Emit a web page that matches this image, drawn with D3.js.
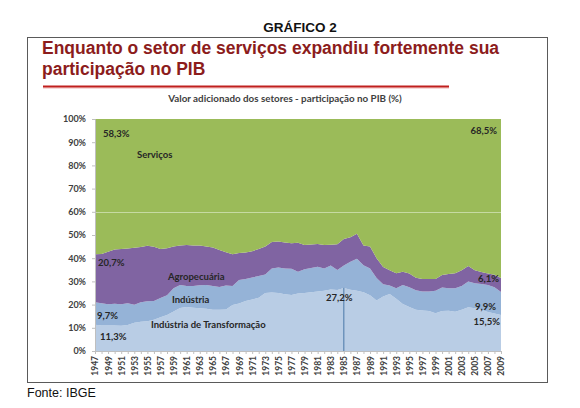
<!DOCTYPE html>
<html>
<head>
<meta charset="utf-8">
<script src="https://cdn.jsdelivr.net/npm/d3@7"></script>
<style>
  body { margin: 0; background: #fff; }
  svg { display: block; }
</style>
</head>
<body>
<svg id="chart"></svg>
<script>
// anos 1947..2009
const years = d3.range(1947, 2010);

// participacao no PIB (%) por setor
const transformacao = [
  11.3, 11.0, 11.0, 11.0, 10.9, 11.2, 12.2, 12.6, 12.8, 13.5,
  14.5, 15.5, 17.0, 18.5, 19.0, 18.6, 18.4, 18.2, 17.8, 17.8,
  17.9, 19.8, 20.5, 21.5, 22.2, 23.0, 25.0, 25.2, 25.0, 24.5,
  24.1, 24.8, 25.0, 25.3, 25.6, 26.0, 26.5, 26.3, 27.2, 26.4,
  26.0, 25.3, 24.0, 21.8, 23.5, 24.6, 22.5, 20.3, 19.0, 17.8,
  17.5, 17.2, 16.3, 17.2, 17.4, 16.9, 17.8, 18.9, 18.4, 17.8,
  16.8, 16.2, 15.5
];
const industria = [
  9.7, 9.6, 9.2, 9.4, 9.3, 9.4, 7.7, 8.4, 8.6, 8.0,
  8.3, 8.5, 10.0, 10.0, 9.0, 9.4, 9.9, 10.3, 10.2, 9.8,
  10.3, 8.2, 10.1, 9.5, 9.5, 9.3, 8.0, 10.4, 11.0, 11.1,
  11.3, 9.4, 10.2, 10.5, 10.7, 9.6, 10.3, 8.6, 9.6, 12.1,
  13.8, 11.7, 11.6, 9.7, 5.3, 3.6, 4.5, 8.1, 8.5, 8.4,
  8.1, 8.4, 9.7, 10.2, 9.6, 10.1, 10.2, 11.1, 10.8, 11.1,
  11.6, 11.3, 9.9
];
const agropecuaria = [
  20.7, 21.2, 22.6, 23.4, 23.8, 23.6, 24.6, 23.8, 24.0, 23.4,
  21.2, 20.3, 18.0, 17.0, 17.7, 17.5, 17.2, 16.5, 16.6, 15.9,
  14.4, 13.7, 11.6, 11.5, 11.3, 11.7, 12.0, 11.4, 11.2, 11.2,
  11.0, 12.5, 10.5, 10.1, 9.8, 10.1, 9.0, 11.1, 11.5, 10.5,
  10.7, 8.5, 9.4, 8.5, 7.4, 6.6, 6.5, 5.8, 5.9, 5.4,
  5.4, 5.4, 5.0, 5.4, 6.2, 6.5, 6.8, 6.6, 5.6, 5.2,
  5.0, 5.4, 6.1
];
const servicos = [
  58.3, 58.2, 57.2, 56.2, 56.0, 55.8, 55.5, 55.2, 54.6, 55.1,
  56.0, 55.7, 55.0, 54.5, 54.3, 54.5, 54.5, 55.0, 55.4, 56.5,
  57.4, 58.3, 57.8, 57.5, 57.0, 56.0, 55.0, 53.0, 52.8, 53.2,
  53.6, 53.3, 54.3, 54.1, 53.9, 54.3, 54.2, 54.0, 51.7, 51.0,
  49.5, 54.5, 55.0, 60.0, 63.8, 65.2, 66.5, 65.8, 66.6, 68.4,
  69.0, 69.0, 69.0, 67.2, 66.8, 66.5, 65.2, 63.4, 65.2, 65.9,
  66.6, 67.1, 68.5
];

const keys = ['transformacao', 'industria', 'agropecuaria', 'servicos'];
const colors = {
  transformacao: '#b9cde5',
  industria: '#95b3d7',
  agropecuaria: '#8064a2',
  servicos: '#9bbb59'
};
const yTicks = [0, 10, 20, 30, 40, 50, 60, 70, 80, 90, 100];

const table = years.map((y, i) => ({
  year: y,
  transformacao: transformacao[i],
  industria: industria[i],
  agropecuaria: agropecuaria[i],
  servicos: servicos[i]
}));

const W = 580, H = 408;
const svg = d3.select('#chart').attr('width', W).attr('height', H);

const plot = {left: 95, right: 501, top: 119, bottom: 351};

const x = d3.scaleLinear().domain([1947, 2009]).range([plot.left, plot.right]);
const y = d3.scaleLinear().domain([0, 100]).range([plot.bottom, plot.top]);

// cabecalho
svg.append('text')
  .attr('x', 300).attr('y', 32)
  .attr('text-anchor', 'middle')
  .style('font-family', '"Liberation Sans", Arial, sans-serif')
  .style('font-weight', 'bold')
  .style('font-size', '13.5px')
  .attr('fill', '#111')
  .text('GRÁFICO 2');

svg.append('rect')
  .attr('x', 27.5).attr('y', 37.5)
  .attr('width', 520).attr('height', 345)
  .attr('fill', 'none')
  .attr('stroke', '#5a5a5a');

const title = svg.append('g')
  .style('font-family', '"Liberation Sans", Arial, sans-serif')
  .style('font-weight', 'bold')
  .style('font-size', '17.5px')
  .attr('fill', '#8c1c1c');
title.append('text').attr('x', 42).attr('y', 54)
  .text('Enquanto o setor de serviços expandiu fortemente sua');
title.append('text').attr('x', 42).attr('y', 75)
  .text('participação no PIB');

svg.append('line')
  .attr('x1', 43).attr('x2', 449).attr('y1', 88).attr('y2', 88)
  .attr('stroke', '#f0b4b4').attr('stroke-width', 1);
svg.append('line')
  .attr('x1', 43).attr('x2', 449).attr('y1', 86.5).attr('y2', 86.5)
  .attr('stroke', '#c0201e').attr('stroke-width', 2);

svg.append('text')
  .attr('x', 285).attr('y', 102)
  .attr('text-anchor', 'middle')
  .style('font-family', 'Lato, sans-serif')
  .style('font-weight', 'bold')
  .style('font-size', '9.8px')
  .attr('fill', '#404040')
  .text('Valor adicionado dos setores - participação no PIB (%)');

// areas empilhadas
const series = d3.stack().keys(keys)(table);

const area = d3.area()
  .x(d => x(d.data.year))
  .y0(d => y(d[0]))
  .y1(d => y(d[1]));

svg.append('g')
  .selectAll('path')
  .data(series)
  .join('path')
  .attr('fill', d => colors[d.key])
  .attr('d', area);

// linha de grade visivel em 60%
svg.append('line')
  .attr('x1', plot.left).attr('x2', plot.right)
  .attr('y1', Math.round(y(60)) + 0.5).attr('y2', Math.round(y(60)) + 0.5)
  .attr('stroke', '#c6daa2').attr('stroke-width', 1);

// marcador 1985
const i85 = years.indexOf(1985);
svg.append('line')
  .attr('x1', x(1985)).attr('x2', x(1985))
  .attr('y1', y(transformacao[i85])).attr('y2', y(0))
  .attr('stroke', '#4a78a8').attr('stroke-width', 1);

// eixos
const yAxis = d3.axisLeft(y)
  .tickValues(yTicks)
  .tickSize(3)
  .tickPadding(6)
  .tickFormat(d => d + '%');

svg.append('g')
  .attr('transform', `translate(${plot.left},0)`)
  .call(yAxis)
  .call(g => g.select('.domain').attr('stroke', '#bfbfbf'))
  .call(g => g.selectAll('.tick line').attr('stroke', '#bfbfbf'))
  .call(g => g.selectAll('text')
    .style('font-family', 'Lato, sans-serif')
    .style('font-weight', 'bold')
    .style('font-size', '9px')
    .attr('fill', '#404040'));

const xAxis = d3.axisBottom(x)
  .tickValues(years)
  .tickSize(3)
  .tickFormat(d => (d % 2 === 1 ? d : ''));

svg.append('g')
  .attr('transform', `translate(0,${plot.bottom})`)
  .call(xAxis)
  .call(g => g.select('.domain').attr('stroke', '#bfbfbf'))
  .call(g => g.selectAll('.tick line').attr('stroke', '#bfbfbf'))
  .call(g => g.selectAll('text')
    .attr('transform', 'rotate(-90)')
    .attr('text-anchor', 'end')
    .attr('x', -5).attr('y', 0).attr('dy', '0.35em')
    .style('font-family', 'Lato, sans-serif')
    .style('font-weight', 'bold')
    .style('font-size', '8.5px')
    .attr('fill', '#404040'));

// rotulos
const labels = [
  {t: '58,3%', x: 103, y: 137, a: 'start'},
  {t: 'Serviços', x: 137, y: 158, a: 'start'},
  {t: '68,5%', x: 497, y: 134, a: 'end'},
  {t: '20,7%', x: 98, y: 266, a: 'start'},
  {t: 'Agropecuária', x: 168, y: 280, a: 'start'},
  {t: 'Indústria', x: 172, y: 303, a: 'start'},
  {t: '9,7%', x: 97, y: 319, a: 'start'},
  {t: 'Indústria de Transformação', x: 151, y: 328, a: 'start'},
  {t: '11,3%', x: 100, y: 340, a: 'start'},
  {t: '27,2%', x: 326, y: 301, a: 'start'},
  {t: '6,1%', x: 499, y: 282, a: 'end'},
  {t: '9,9%', x: 496, y: 310, a: 'end'},
  {t: '15,5%', x: 500, y: 325, a: 'end'}
];

svg.append('g')
  .selectAll('text')
  .data(labels)
  .join('text')
  .attr('x', d => d.x).attr('y', d => d.y)
  .attr('text-anchor', d => d.a)
  .style('font-family', 'Lato, sans-serif')
  .style('font-weight', 'bold')
  .style('font-size', '9.5px')
  .attr('fill', '#262626')
  .text(d => d.t);

svg.append('text')
  .attr('x', 27).attr('y', 397)
  .style('font-family', '"Liberation Sans", Arial, sans-serif')
  .style('font-size', '12.5px')
  .attr('fill', '#111')
  .text('Fonte: IBGE');
</script>
</body>
</html>
